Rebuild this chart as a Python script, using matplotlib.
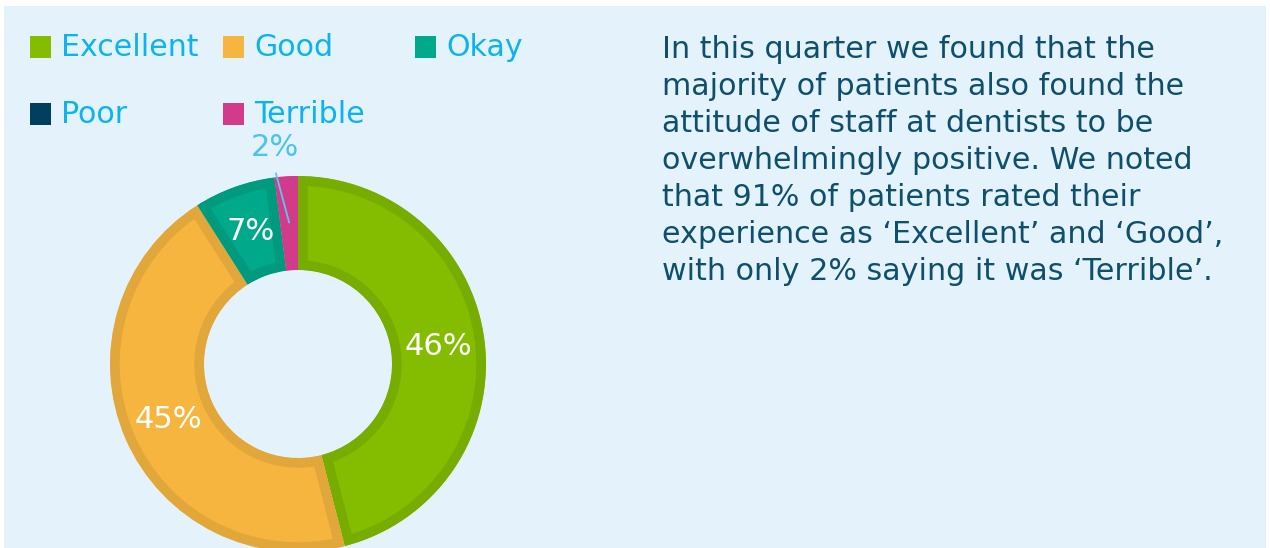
import numpy as np
import matplotlib.pyplot as plt
from matplotlib.patches import Rectangle

# data
categories = ['Excellent', 'Good', 'Okay', 'Poor', 'Terrible']
values = [46, 45, 7, 0, 2]
fill_colors = ['#84BD00', '#F6B53F', '#00A98A', '#003F5C', '#D13B89']
edge_colors = ['#77AC00', '#E2A73A', '#009A7E', '#003F5C', '#D13B89']
body_lines = [
    'In this quarter we found that the',
    'majority of patients also found the',
    'attitude of staff at dentists to be',
    'overwhelmingly positive. We noted',
    'that 91% of patients rated their',
    'experience as \u2018Excellent\u2019 and \u2018Good\u2019,',
    'with only 2% saying it was \u2018Terrible\u2019.',
]

W, H = 1270, 548
plt.rcParams['font.family'] = ['DejaVu Sans']
fig = plt.figure(figsize=(W / 100, H / 100), dpi=100, facecolor='white')

# light blue panel
fig.patches.append(Rectangle((4 / W, 0), 1262 / W, 542 / H, transform=fig.transFigure,
                             facecolor='#E4F3FB', edgecolor='none', zorder=0))

# donut, centre (298, 364) px from top-left, radius 188 px
cx, cy, R = 298, 364, 188
ax = fig.add_axes([(cx - R) / W, (H - cy - R) / H, 2 * R / W, 2 * R / H])
ax.set_zorder(5)
ax.set_facecolor('none')
wedges, _ = ax.pie(values, colors=fill_colors, startangle=90, counterclock=False,
                   radius=1, wedgeprops=dict(width=0.5, linewidth=0))
# darker inner border on every slice
for w, ec in zip(wedges, edge_colors):
    w.set_edgecolor(ec)
    w.set_linewidth(14)
    w.set_clip_on(True)
    w.set_clip_path(w)
ax.set_xlim(-1, 1)
ax.set_ylim(-1, 1)
ax.set_aspect('equal')
ax.axis('off')

for w, v in zip(wedges, values):
    if v == 0:
        continue
    mid = np.deg2rad((w.theta1 + w.theta2) / 2)
    if v >= 5:
        ax.text(0.75 * np.cos(mid), 0.75 * np.sin(mid), f'{v}%', color='white',
                fontsize=22, ha='center', va='center')
    else:
        end = mid + np.deg2rad(3)
        ax.plot([0.755 * np.cos(mid), 1.02 * np.cos(end)],
                [0.755 * np.sin(mid), 1.02 * np.sin(end)],
                color='#5BC6F2', lw=1.3, clip_on=False)
        lab = mid + np.deg2rad(2.5)
        ax.text(1.16 * np.cos(lab), 1.16 * np.sin(lab), f'{v}%', color='#4DC2F1',
                fontsize=22, ha='center', va='center', clip_on=False)

# legend (3 columns, flowing)
col_x = [30, 223, 415]
row_y = [47, 114]
for i, (name, c) in enumerate(zip(categories, fill_colors)):
    x = col_x[i % 3]
    y = row_y[i // 3]
    fig.patches.append(Rectangle((x / W, (H - y - 10.5) / H), 21 / W, 21 / H,
                                 transform=fig.transFigure, facecolor=c,
                                 edgecolor='none', zorder=2))
    fig.text((x + 31) / W, (H - y - 9) / H, name, color='#0DB3EE', fontsize=21.6,
             ha='left', va='baseline')

# body text
for i, line in enumerate(body_lines):
    fig.text(662 / W, (H - 58 - i * 37) / H, line, color='#0F4F6B', fontsize=21.7,
             ha='left', va='baseline')

fig.savefig('out.png', dpi=100, facecolor='white')
